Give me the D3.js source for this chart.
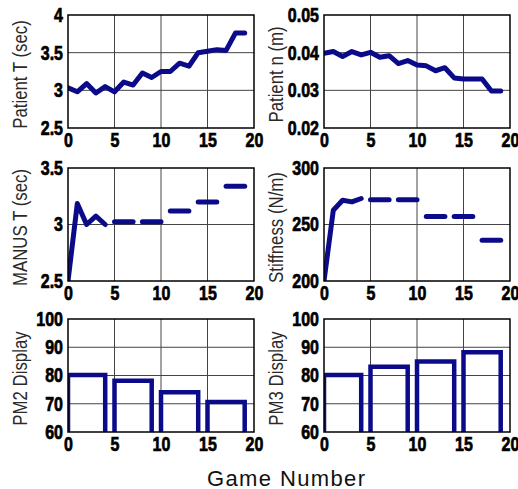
<!DOCTYPE html>
<html>
<head>
<meta charset="utf-8">
<script src="https://cdn.jsdelivr.net/npm/d3@7"></script>
<style>
  body { margin: 0; background: #fff; }
  .tick text { font-family: "Liberation Sans", Arial, sans-serif; font-weight: 700; font-size: 20px; fill: #000; stroke: #000; stroke-width: 0.7px; }
  .ylab { font-family: "Liberation Sans", Arial, sans-serif; font-size: 20px; fill: #2a2a2a; }
</style>
</head>
<body>
<svg id="chart" width="518" height="489"></svg>
<script>
// game index on every panel
const games = [0,1,2,3,4,5,6,7,8,9,10,11,12,13,14,15,16,17,18,19];
const xTicks = [0,5,10,15,20];

// top row
const patientT = [3.035,2.98,3.09,2.965,3.05,2.98,3.11,3.07,3.23,3.17,3.25,3.25,3.36,3.32,3.50,3.52,3.54,3.53,3.76,3.76];
const patientN = [0.0398,0.0403,0.0390,0.0403,0.0394,0.0401,0.0388,0.0392,0.0371,0.0379,0.0367,0.0365,0.0352,0.0360,0.0333,0.0330,0.0330,0.0330,0.0298,0.0298];

// middle row, the line breaks between segments
const segment = [0,0,0,0,0,1,1,1,2,2,2,3,3,3,4,4,4,5,5,5];
const manusT = [2.5,3.185,3.0,3.074,3.0,3.025,3.025,3.025,3.025,3.025,3.025,3.12,3.12,3.12,3.2,3.2,3.2,3.338,3.338,3.338];
const stiffness = [200,262.6,271.5,270,273,272,272,272,272,272,272,257,257,257,257,257,257,236,236,236];

// bottom row: one block per group of games
const blockStart = [0,5,10,15];
const blockEnd = [4,9,14,19];
const pm2 = [80.2,78.1,74.1,70.6];
const pm3 = [80.2,83.1,85,88.2];

const lineColor = "#0b0b8a";
const svg = d3.select("#chart");
const colX = [68, 324], rowY = [15, 168, 319];
const pw = 186, ph = 113;

// no narrow font installed, squeeze the glyphs instead
function condense(sel, k) {
  sel.each(function () {
    const w = this.getComputedTextLength();
    this.setAttribute("textLength", w * k);
    this.setAttribute("lengthAdjust", "spacingAndGlyphs");
  });
}

let clipId = 0;
function panel(col, row, yDomain, yTicks, yFmt, label) {
  const g = svg.append("g").attr("transform", `translate(${colX[col]},${rowY[row]})`);
  const x = d3.scaleLinear().domain([0, 20]).range([0, pw]);
  const y = d3.scaleLinear().domain(yDomain).range([ph, 0]);

  // grid
  g.append("g").selectAll("line").data(xTicks.slice(1, -1)).join("line")
    .attr("x1", d => x(d)).attr("x2", d => x(d)).attr("y1", 0).attr("y2", ph)
    .attr("stroke", "#444").attr("stroke-width", 1);
  g.append("g").selectAll("line").data(yTicks.slice(1, -1)).join("line")
    .attr("y1", d => y(d)).attr("y2", d => y(d)).attr("x1", 0).attr("x2", pw)
    .attr("stroke", "#444").attr("stroke-width", 1);

  g.append("g").attr("transform", `translate(0,${ph})`)
    .call(d3.axisBottom(x).tickValues(xTicks).tickSize(0).tickPadding(5))
    .call(a => a.select(".domain").remove())
    .call(a => condense(a.selectAll("text"), 0.8));
  g.append("g")
    .call(d3.axisLeft(y).tickValues(yTicks).tickFormat(yFmt).tickSize(0).tickPadding(5))
    .call(a => a.select(".domain").remove())
    .call(a => condense(a.selectAll("text"), 0.8));

  svg.append("text").attr("class", "ylab")
    .attr("transform", `translate(${colX[col] - 48},${rowY[row] + ph / 2 + 3}) rotate(-90)`)
    .attr("text-anchor", "middle").attr("dy", "0.35em").text(label)
    .call(t => condense(t, 0.84));

  const id = "clip" + (clipId++);
  g.append("clipPath").attr("id", id).append("rect").attr("width", pw).attr("height", ph);
  const plot = g.append("g").attr("clip-path", `url(#${id})`);

  g.append("rect").attr("width", pw).attr("height", ph)
    .attr("fill", "none").attr("stroke", "#000").attr("stroke-width", 1.5);
  return { plot, x, y };
}

function drawLine(p, values, segs) {
  const pts = games.map((gm, i) => ({ gm, v: values[i], s: segs ? segs[i] : 0 }));
  const groups = d3.groups(pts, d => d.s).map(d => d[1]);
  const line = d3.line().x(d => p.x(d.gm)).y(d => p.y(d.v));
  p.plot.selectAll("path.l").data(groups).join("path").attr("class", "l")
    .attr("d", line).attr("fill", "none").attr("stroke", lineColor)
    .attr("stroke-width", 5).attr("stroke-linejoin", "round").attr("stroke-linecap", "round");
}

function drawBlocks(p, values) {
  const base = p.y.domain()[0];
  const path = (d, i) => {
    const pa = d3.path();
    pa.moveTo(p.x(blockStart[i]), p.y(base));
    pa.lineTo(p.x(blockStart[i]), p.y(d));
    pa.lineTo(p.x(blockEnd[i]), p.y(d));
    pa.lineTo(p.x(blockEnd[i]), p.y(base));
    return pa.toString();
  };
  p.plot.selectAll("path.b").data(values).join("path").attr("class", "b")
    .attr("d", path).attr("fill", "none").attr("stroke", lineColor)
    .attr("stroke-width", 4.5).attr("stroke-linejoin", "miter");
}

const p1 = panel(0, 0, [2.5, 4], [2.5, 3, 3.5, 4], d3.format(""), "Patient T (sec)");
drawLine(p1, patientT);
const p2 = panel(1, 0, [0.02, 0.05], [0.02, 0.03, 0.04, 0.05], d3.format(".2f"), "Patient n (m)");
drawLine(p2, patientN);
const p3 = panel(0, 1, [2.5, 3.5], [2.5, 3, 3.5], d3.format(""), "MANUS T (sec)");
drawLine(p3, manusT, segment);
const p4 = panel(1, 1, [200, 300], [200, 250, 300], d3.format(""), "Stiffness (N/m)");
drawLine(p4, stiffness, segment);
const p5 = panel(0, 2, [60, 100], [60, 70, 80, 90, 100], d3.format(""), "PM2 Display");
drawBlocks(p5, pm2);
const p6 = panel(1, 2, [60, 100], [60, 70, 80, 90, 100], d3.format(""), "PM3 Display");
drawBlocks(p6, pm3);

svg.append("text").attr("x", 207).attr("y", 486)
  .attr("textLength", 158).attr("lengthAdjust", "spacing")
  .style("font-family", "'Liberation Sans', Arial, sans-serif").style("font-size", "22px").style("fill", "#111")
  .text("Game Number");
</script>
</body>
</html>
